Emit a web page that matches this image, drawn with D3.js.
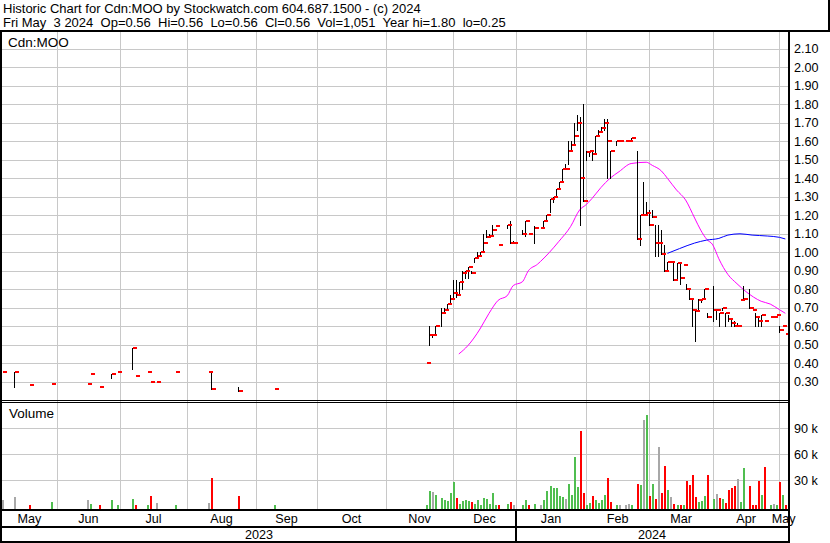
<!DOCTYPE html>
<html><head><meta charset="utf-8">
<script src="https://cdn.jsdelivr.net/npm/d3@7"></script>
<style>
html,body{margin:0;padding:0;background:#fff;}
svg{display:block;}
text{font-family:"Liberation Sans",Arial,sans-serif;font-size:12.6px;fill:#000;}
text.big{font-size:13px;}
</style></head><body>
<svg id="c" width="830" height="543"></svg>
<script>
// ---------------- data ----------------
const headerLine1 = "Historic Chart for Cdn:MOO by Stockwatch.com 604.687.1500 - (c) 2024";
const headerLine2 = "Fri May  3 2024  Op=0.56  Hi=0.56  Lo=0.56  Cl=0.56  Vol=1,051  Year hi=1.80  lo=0.25";
const symbolLabel = "Cdn:MOO";
const volumeLabel = "Volume";
const priceTicks = [0.30,0.40,0.50,0.60,0.70,0.80,0.90,1.00,1.10,1.20,1.30,1.40,1.50,1.60,1.70,1.80,1.90,2.00,2.10];
const volumeTicks = [30000,60000,90000];
const volumeTickLabels = ["30 k","60 k","90 k"];
const monthStarts = ["2023-06-01","2023-07-01","2023-08-01","2023-09-01","2023-10-01","2023-11-01","2023-12-01","2024-01-01","2024-02-01","2024-03-01","2024-04-01","2024-05-01"];
const monthNames = ["May","Jun","Jul","Aug","Sep","Oct","Nov","Dec","Jan","Feb","Mar","Apr","May"];
const yearNames = ["2023","2024"];
const yearBreak = "2024-01-01";

const dates = [
"2023-05-08","2023-05-12","2023-05-19","2023-05-30","2023-06-15","2023-06-16","2023-06-21","2023-06-27","2023-06-29",
"2023-07-06","2023-07-07","2023-07-13","2023-07-14","2023-07-18","2023-07-26","2023-08-10","2023-08-11","2023-08-24","2023-09-11",
"2023-11-20","2023-11-21","2023-11-22","2023-11-23","2023-11-27","2023-11-28","2023-11-29","2023-11-30",
"2023-12-01","2023-12-04","2023-12-05","2023-12-06","2023-12-07","2023-12-08","2023-12-11","2023-12-12","2023-12-13","2023-12-14",
"2023-12-15","2023-12-18","2023-12-19","2023-12-20","2023-12-21","2023-12-22","2023-12-27","2023-12-28","2023-12-29",
"2024-01-03","2024-01-04","2024-01-05","2024-01-09","2024-01-11","2024-01-12","2024-01-15","2024-01-16","2024-01-17","2024-01-18",
"2024-01-19","2024-01-22","2024-01-23","2024-01-24","2024-01-25","2024-01-26","2024-01-29","2024-01-30","2024-01-31",
"2024-02-01","2024-02-02","2024-02-05","2024-02-06","2024-02-07","2024-02-08","2024-02-09","2024-02-12","2024-02-13","2024-02-15",
"2024-02-16","2024-02-20","2024-02-21","2024-02-22","2024-02-26","2024-02-27","2024-02-28","2024-02-29",
"2024-03-01","2024-03-04","2024-03-05","2024-03-06","2024-03-07","2024-03-08","2024-03-11","2024-03-12","2024-03-13","2024-03-14",
"2024-03-15","2024-03-18","2024-03-19","2024-03-20","2024-03-21","2024-03-22","2024-03-25","2024-03-26","2024-03-27","2024-03-28",
"2024-04-01","2024-04-02","2024-04-03","2024-04-04","2024-04-05","2024-04-08","2024-04-09","2024-04-10","2024-04-11","2024-04-12",
"2024-04-15","2024-04-17","2024-04-18","2024-04-19","2024-04-22","2024-04-23","2024-04-24","2024-04-26","2024-04-29","2024-04-30",
"2024-05-01","2024-05-02","2024-05-03"];
const highs = [
.35,.35,.28,.29,.29,.34,.27,.34,.35,
.48,.33,.35,.30,.30,.35,.35,.35,.27,.26,
.40,.60,.55,.60,.70,.70,.72,.77,
.85,.85,.84,.90,.90,.92,.90,.97,1.00,1.00,
1.10,1.12,1.10,1.15,1.14,1.04,1.15,1.17,1.06,
1.12,1.17,1.10,1.14,1.13,1.17,1.20,1.29,1.30,1.34,
1.38,1.45,1.48,1.60,1.60,1.70,1.74,1.73,1.80,
1.55,1.55,1.55,1.63,1.66,1.68,1.72,1.72,1.55,1.60,
1.60,1.60,1.60,1.62,1.55,1.20,1.38,1.27,
1.23,1.23,1.15,1.15,1.12,1.04,0.95,0.95,0.94,0.94,
0.94,0.93,0.83,0.80,0.74,0.69,0.75,0.75,0.80,0.67,
0.82,0.69,0.67,0.70,0.67,0.66,0.64,0.63,0.62,0.74,
0.82,0.80,0.69,0.67,0.65,0.66,0.63,0.65,0.65,0.66,
0.60,0.60,0.56];
const lows = [
.35,.27,.28,.29,.29,.34,.27,.32,.35,
.37,.33,.35,.30,.30,.35,.35,.26,.25,.26,
.40,.50,.54,.55,.60,.67,.69,.72,
.76,.76,.78,.80,.86,.86,.89,.95,.98,.98,
1.00,1.08,1.09,1.09,1.14,1.04,1.13,1.05,1.05,
1.10,1.09,1.10,1.05,1.13,1.13,1.17,1.22,1.27,1.30,
1.34,1.38,1.45,1.48,1.55,1.58,1.66,1.15,1.28,
1.50,1.52,1.50,1.53,1.63,1.65,1.66,1.40,1.40,1.58,
1.60,1.60,1.60,1.60,1.07,1.04,1.20,1.20,
1.15,1.19,0.98,0.98,0.99,0.90,0.90,0.95,0.85,0.85,
0.83,0.93,0.80,0.75,0.60,0.52,0.69,0.73,0.75,0.65,
0.63,0.64,0.60,0.69,0.60,0.63,0.60,0.60,0.60,0.74,
0.75,0.70,0.69,0.60,0.60,0.60,0.63,0.65,0.65,0.66,
0.57,0.60,0.56];
const closes = [
.35,.35,.28,.29,.29,.34,.27,.34,.35,
.48,.33,.35,.30,.30,.35,.35,.26,.25,.26,
.40,.55,.55,.60,.67,.69,.72,.75,
.78,.77,.84,.89,.90,.92,.89,.97,.98,1.00,
1.05,1.08,1.09,1.12,1.14,1.04,1.15,1.05,1.05,
1.10,1.17,1.10,1.13,1.13,1.17,1.20,1.29,1.30,1.34,
1.38,1.45,1.45,1.55,1.58,1.63,1.70,1.40,1.28,
1.54,1.55,1.53,1.63,1.65,1.67,1.70,1.60,1.55,1.60,
1.60,1.60,1.60,1.62,1.07,1.20,1.20,1.21,
1.15,1.19,1.05,1.05,0.99,0.90,0.95,0.95,0.85,0.94,
0.86,0.93,0.80,0.75,0.69,0.68,0.74,0.75,0.80,0.65,
0.69,0.69,0.67,0.70,0.67,0.64,0.62,0.60,0.60,0.74,
0.75,0.70,0.69,0.65,0.63,0.66,0.63,0.65,0.65,0.66,
0.58,0.60,0.56];
const volumes = [
6800,10000,1000,4500,6800,2200,1000,6800,500,
8000,500,1000,11400,3400,1000,3400,32000,11400,500,
1000,17000,16000,12600,9000,6800,5600,15000,
27600,9000,2000,5700,6800,5700,4500,2200,6800,1000,
9000,8000,2200,15000,500,500,2200,4500,500,
1000,6800,500,2200,500,6800,17000,23000,20700,20700,
11400,10200,8000,25400,12600,56600,22000,86700,15000,
1000,3400,11400,6800,3400,6800,12600,32000,4500,500,
1000,1000,2000,1000,25000,24000,100000,105000,
11400,25000,8000,68000,15000,46000,18000,10000,2000,1000,
1000,1000,29000,24000,36000,10000,4500,5600,11400,36000,
8000,13600,9000,8000,3400,18000,20700,23000,31000,4500,
44000,23000,500,500,29000,12600,45000,500,2000,500,
28000,12600,1051];

// moving averages
const maShortDates = ["2023-12-05","2023-12-08","2023-12-14","2023-12-19","2023-12-22","2023-12-27","2023-12-29","2024-01-03","2024-01-05","2024-01-10","2024-01-11","2024-01-16","2024-01-19","2024-01-25","2024-01-30","2024-02-01","2024-02-05","2024-02-08","2024-02-13","2024-02-16","2024-02-22","2024-02-29","2024-03-04","2024-03-07","2024-03-11","2024-03-14","2024-03-19","2024-03-22","2024-03-26","2024-03-28","2024-04-01","2024-04-03","2024-04-08","2024-04-11","2024-04-16","2024-04-23","2024-04-26","2024-05-01","2024-05-03"];
const maShortValues = [0.45,0.495,0.585,0.67,0.74,0.765,0.82,0.84,0.90,0.935,0.95,1.00,1.057,1.14,1.23,1.256,1.29,1.35,1.40,1.436,1.48,1.487,1.47,1.44,1.40,1.337,1.283,1.185,1.12,1.07,1.04,0.965,0.88,0.83,0.787,0.735,0.72,0.69,0.67];
const maLongDates = ["2024-03-11","2024-03-15","2024-03-22","2024-03-28","2024-04-03","2024-04-08","2024-04-12","2024-04-18","2024-04-25","2024-05-01","2024-05-03"];
const maLongValues = [0.994,1.02,1.05,1.066,1.075,1.093,1.10,1.093,1.088,1.081,1.072];

// ---------------- layout ----------------
const L = 2, R = 788;
const PT = 32, PB = 400;
const VT = 403, VB = 509;
const GRID = "#c8c8c8";
const RED = "#ff0000", GREEN = "#50be50", GREY = "#a8a8a8";

// weekday index (weekends map to the preceding Friday)
function wd(s){
  const t = Date.UTC(+s.slice(0,4), +s.slice(5,7)-1, +s.slice(8,10));
  const k = Math.round(t/86400000) + 3;
  const w = Math.floor(k/7), dow = k - w*7;
  return w*5 + Math.min(dow,4);
}
const x = d3.scaleLinear().domain([wd("2023-06-01"), wd("2024-05-01")]).range([56.7, 779.3]);
const py = d3.scaleLinear().domain([0.3, 2.1]).range([381.7, 48.9]);
const vy = d3.scaleLinear().domain([0, 90000]).range([505.9, 428.3]);
const X = d => x(wd(d));
const px = v => Math.round(v) + 0.5;

const svg = d3.select("#c");
svg.append("rect").attr("width",830).attr("height",543).attr("fill","#fff");

const defs = svg.append("defs");
defs.append("clipPath").attr("id","cp").append("rect").attr("x",L).attr("y",PT).attr("width",R-L).attr("height",PB-PT);
defs.append("clipPath").attr("id","cv").append("rect").attr("x",L).attr("y",VT).attr("width",R-L).attr("height",VB-VT);

const g = svg.append("g").attr("shape-rendering","crispEdges");

// grid
const monthX = monthStarts.map(X);
g.selectAll("line.vg").data(monthX).enter().append("line")
  .attr("x1",d=>px(d)).attr("x2",d=>px(d)).attr("y1",PT).attr("y2",VB)
  .attr("stroke",GRID);
g.selectAll("line.pg").data(priceTicks).enter().append("line")
  .attr("x1",L).attr("x2",R).attr("y1",d=>px(py(d))).attr("y2",d=>px(py(d)))
  .attr("stroke",GRID);
g.selectAll("line.volg").data(volumeTicks).enter().append("line")
  .attr("x1",L).attr("x2",R).attr("y1",d=>px(vy(d))).attr("y2",d=>px(vy(d)))
  .attr("stroke",GRID);

// price panel
const pg = svg.append("g").attr("clip-path","url(#cp)");
const lineGen = d3.line().x(d=>X(d[0])).y(d=>py(d[1])).curve(d3.curveMonotoneX);
pg.append("path").datum(maShortDates.map((d,i)=>[d,maShortValues[i]]))
  .attr("d",lineGen).attr("fill","none").attr("stroke","#ff00ff").attr("stroke-width",1);
pg.append("path").datum(maLongDates.map((d,i)=>[d,maLongValues[i]]))
  .attr("d",lineGen).attr("fill","none").attr("stroke","#0000ff").attr("stroke-width",1);

const bars = dates.map((d,i)=>({d, h:highs[i], l:lows[i], c:closes[i], v:volumes[i],
  dir: i===0 ? 0 : Math.sign(Math.round((closes[i]-closes[i-1])*1000))}));
const bg = pg.append("g").attr("shape-rendering","crispEdges");
bg.selectAll("line.bar").data(bars.filter(b=>b.h>b.l)).enter().append("line")
  .attr("x1",b=>px(X(b.d))).attr("x2",b=>px(X(b.d)))
  .attr("y1",b=>Math.round(py(b.h))).attr("y2",b=>Math.round(py(b.l))+1)
  .attr("stroke","#000");
bg.selectAll("rect.tick").data(bars).enter().append("rect")
  .attr("x",b=>Math.round(X(b.d))+1).attr("width",4)
  .attr("y",b=>Math.round(py(b.c))-1).attr("height",2)
  .attr("fill",RED);

// volume panel
const vg = svg.append("g").attr("clip-path","url(#cv)").attr("shape-rendering","crispEdges");
vg.selectAll("rect").data(bars).enter().append("rect")
  .attr("x",b=>Math.round(X(b.d))).attr("width",2)
  .attr("y",b=>Math.round(vy(b.v))).attr("height",b=>VB-Math.round(vy(b.v)))
  .attr("fill",b=>b.dir>0?GREEN:(b.dir<0?RED:GREY));

// frame
const f = svg.append("g").attr("shape-rendering","crispEdges");
f.append("rect").attr("x",0).attr("y",30).attr("width",830).attr("height",2).attr("fill","#000");
f.append("rect").attr("x",828).attr("y",0).attr("width",2).attr("height",31).attr("fill","#000");
f.append("rect").attr("x",0).attr("y",30).attr("width",2).attr("height",513).attr("fill","#000");
f.append("rect").attr("x",R).attr("y",30).attr("width",2).attr("height",513).attr("fill","#000");
f.append("rect").attr("x",0).attr("y",400).attr("width",R+2).attr("height",1).attr("fill","#000");
f.append("rect").attr("x",0).attr("y",402).attr("width",R+2).attr("height",1).attr("fill","#000");
f.append("rect").attr("x",0).attr("y",VB).attr("width",R+2).attr("height",2).attr("fill","#000");
f.append("rect").attr("x",0).attr("y",526).attr("width",R+2).attr("height",2).attr("fill","#000");
f.append("rect").attr("x",0).attr("y",541).attr("width",R+2).attr("height",2).attr("fill","#000");
const yb = X(yearBreak);
f.append("rect").attr("x",Math.round(yb)-1).attr("y",VB).attr("width",2).attr("height",543-VB).attr("fill","#000");

// texts
const t = svg.append("g");
t.append("text").attr("class","big").attr("x",3).attr("y",13).attr("xml:space","preserve").style("white-space","pre").text(headerLine1);
t.append("text").attr("class","big").attr("x",3).attr("y",27).attr("xml:space","preserve").style("white-space","pre").text(headerLine2);
t.append("text").attr("class","big").attr("x",8).attr("y",47).style("font-size","13.5px").text(symbolLabel);
t.append("text").attr("class","big").attr("x",9).attr("y",418).style("font-size","13.5px").text(volumeLabel);
t.selectAll("text.pl").data(priceTicks).enter().append("text")
  .attr("x",794).attr("y",d=>py(d)+4.5).text(d=>d.toFixed(2));
t.selectAll("text.vl").data(volumeTicks).enter().append("text")
  .attr("x",794).attr("y",d=>vy(d)+4.5).text((d,i)=>volumeTickLabels[i]);
const edges = [L, ...monthX, R];
t.selectAll("text.ml").data(monthNames).enter().append("text")
  .attr("x",(d,i)=>(edges[i]+edges[i+1])/2).attr("y",523).attr("text-anchor","middle").text(d=>d);
const yEdges = [L, yb, R];
t.selectAll("text.yl").data(yearNames).enter().append("text")
  .attr("x",(d,i)=>(yEdges[i]+yEdges[i+1])/2).attr("y",539).attr("text-anchor","middle").text(d=>d);
</script>
</body></html>
